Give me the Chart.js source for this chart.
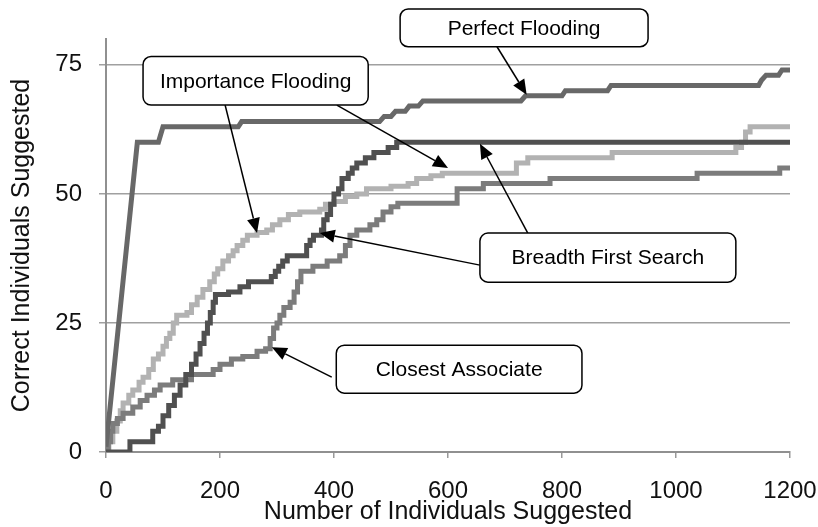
<!DOCTYPE html>
<html>
<head>
<meta charset="utf-8">
<script src="https://cdn.jsdelivr.net/npm/chart.js@4"></script>
<style>
    html, body { margin: 0; padding: 0; background: #fff; }
    #wrap { width: 818px; height: 527px; }
</style>
</head>
<body>
<div id="wrap"><canvas id="chart" width="818" height="527"></canvas></div>
<script>
// Data
const yTicks = [0, 25, 50, 75];
const xTicks = [0, 200, 400, 600, 800, 1000, 1200];

const perfectX = [0, 55, 92, 100, 232, 238, 480, 488, 500, 508, 525, 532, 548, 556, 728, 736, 800, 806, 880, 886, 1145, 1150, 1158, 1180, 1186, 1200];
const perfectY = [1, 60, 60, 63, 63, 64, 64, 65, 65, 66, 66, 67, 67, 68, 68, 69, 69, 70, 70, 71, 71, 72, 73, 73, 74, 74];

const bfsX = [0, 42, 82, 92, 100, 110, 120, 130, 140, 150, 158, 165, 172, 178, 183, 188, 192, 215, 235, 250, 290, 297, 303, 310, 318, 352, 358, 364, 378, 382, 388, 394, 400, 408, 414, 425, 432, 440, 455, 470, 495, 510, 1200];
const bfsY = [0, 2, 4, 5, 7, 9, 11, 13, 15, 17, 19, 21, 23, 25, 27, 29, 30.5, 31, 32, 33, 34, 35, 36, 37, 38, 40, 41, 42, 43, 45, 46, 48, 50, 51, 53, 54, 55, 56, 57, 58, 59, 60, 60];

const importanceX = [0, 5, 12, 19, 25, 30, 40, 47, 58, 65, 75, 83, 92, 100, 106, 112, 118, 124, 142, 150, 160, 170, 182, 190, 196, 205, 215, 223, 230, 240, 248, 265, 282, 292, 305, 320, 340, 375, 385, 400, 420, 440, 457, 500, 530, 545, 570, 590, 720, 740, 888, 1105, 1115, 1122, 1130, 1200];
const importanceY = [0, 2, 4, 6, 8, 9.5, 11, 12, 13.5, 14.5, 16, 18, 19, 20.5, 22, 23, 25, 26.5, 27, 28.5, 30, 31.5, 33, 34.5, 35.5, 37, 38, 39, 40, 41, 42, 42.5, 43, 44, 45, 46, 46.5, 47, 48, 48.5, 49.5, 50, 51, 51.5, 52, 53, 53.5, 54, 56, 57, 58, 59, 60, 62, 63, 63];

const closestX = [0, 4, 8, 12, 20, 30, 47, 60, 72, 85, 95, 117, 150, 188, 200, 220, 240, 265, 280, 288, 294, 300, 305, 312, 323, 330, 336, 342, 363, 388, 410, 420, 428, 440, 463, 475, 486, 500, 512, 616, 662, 779, 1037, 1182, 1200];
const closestY = [0, 2, 4, 5.5, 6.5, 7.5, 8.7, 10, 11, 12, 13, 14, 15, 16, 17, 18, 18.5, 19.5, 20, 22, 24, 25, 26.5, 28, 29, 31, 33, 35, 36, 37, 38, 40, 42, 43, 44, 45, 46.5, 47.5, 48.2, 51, 52, 53, 54, 55, 55];

// Callout boxes (data units) and arrows from box edge to the line
const callouts = [
    { text: 'Perfect Flooding', box: [516, 951, 85.8, 78.5] },
    { text: 'Importance Flooding', box: [65, 460, 76.6, 67.2] },
    { text: 'Breadth First Search', box: [656, 1105, 42.4, 32.9] },
    { text: 'Closest Associate', box: [404, 835, 20.7, 11.4] }
];
const arrows = [
    { from: [686, 78.5], to: [738, 69.2] },
    { from: [209, 67.2], to: [265, 42.4] },
    { from: [405, 67.2], to: [600, 55] },
    { from: [656, 36.2], to: [375, 42.4] },
    { from: [740, 42.4], to: [656, 59.7] },
    { from: [396, 14.5], to: [291, 20.3] }
];

const FONT = "'Liberation Sans', Arial, sans-serif";

function toPoints(xs, ys) {
    return xs.map((x, i) => ({ x: x, y: ys[i] }));
}

// no extra padding for edge labels, keep plot area where the reference has it
function noPad(s) {
    s.paddingLeft = 0;
    s.paddingRight = 0;
    s.paddingTop = 0;
    s.paddingBottom = 0;
}

const calloutPlugin = {
    id: 'callouts',
    afterDraw(chart) {
        const ctx = chart.ctx;
        const sx = chart.scales.x;
        const sy = chart.scales.y;
        ctx.save();

        // arrows first, boxes on top
        arrows.forEach(a => {
            const x1 = sx.getPixelForValue(a.from[0]);
            const y1 = sy.getPixelForValue(a.from[1]);
            const x2 = sx.getPixelForValue(a.to[0]);
            const y2 = sy.getPixelForValue(a.to[1]);
            const ang = Math.atan2(y2 - y1, x2 - x1);
            const len = 15, half = 6.5;
            const bx = x2 - len * Math.cos(ang);
            const by = y2 - len * Math.sin(ang);
            ctx.strokeStyle = '#000';
            ctx.lineWidth = 1.5;
            ctx.beginPath();
            ctx.moveTo(x1, y1);
            ctx.lineTo(bx, by);
            ctx.stroke();
            ctx.fillStyle = '#000';
            ctx.beginPath();
            ctx.moveTo(x2, y2);
            ctx.lineTo(bx + half * Math.sin(ang), by - half * Math.cos(ang));
            ctx.lineTo(bx - half * Math.sin(ang), by + half * Math.cos(ang));
            ctx.closePath();
            ctx.fill();
        });

        callouts.forEach(c => {
            const l = sx.getPixelForValue(c.box[0]);
            const r = sx.getPixelForValue(c.box[1]);
            const t = sy.getPixelForValue(c.box[2]);
            const b = sy.getPixelForValue(c.box[3]);
            ctx.beginPath();
            ctx.roundRect(l, t, r - l, b - t, 8);
            ctx.fillStyle = '#fff';
            ctx.fill();
            ctx.strokeStyle = '#000';
            ctx.lineWidth = 1.5;
            ctx.stroke();
            ctx.fillStyle = '#000';
            ctx.font = '21px ' + FONT;
            ctx.textAlign = 'center';
            ctx.textBaseline = 'middle';
            ctx.fillText(c.text, (l + r) / 2, (t + b) / 2 + 1);
        });
        ctx.restore();
    }
};

const lineStyle = {
    pointRadius: 0,
    borderWidth: 5,
    fill: false,
    tension: 0,
    borderJoinStyle: 'miter'
};

new Chart(document.getElementById('chart'), {
    type: 'line',
    data: {
        datasets: [
            Object.assign({ label: 'Perfect Flooding', data: toPoints(perfectX, perfectY), borderColor: '#686868' }, lineStyle),
            Object.assign({ label: 'Breadth First Search', data: toPoints(bfsX, bfsY), borderColor: '#505050', stepped: true }, lineStyle),
            Object.assign({ label: 'Closest Associate', data: toPoints(closestX, closestY), borderColor: '#7c7c7c', stepped: true }, lineStyle),
            Object.assign({ label: 'Importance Flooding', data: toPoints(importanceX, importanceY), borderColor: '#b2b2b2', stepped: true }, lineStyle)
        ]
    },
    options: {
        responsive: false,
        animation: false,
        layout: { padding: { top: 39, right: 28, left: 0, bottom: 0 } },
        plugins: {
            legend: { display: false },
            tooltip: { enabled: false }
        },
        scales: {
            x: {
                type: 'linear',
                min: 0,
                max: 1200,
                afterFit: s => { s.height = 75; noPad(s); },
                afterBuildTicks: s => { s.ticks = xTicks.map(v => ({ value: v })); },
                grid: { drawOnChartArea: false, drawTicks: true, tickLength: 6, color: '#999', lineWidth: 1.5 },
                border: { color: '#909090', width: 2 },
                ticks: {
                    padding: 19,
                    color: '#111',
                    font: { family: FONT, size: 24 },
                    maxRotation: 0,
                    callback: v => String(v)
                },
                title: {
                    display: true,
                    text: 'Number of Individuals Suggested',
                    color: '#111',
                    font: { family: FONT, size: 25 },
                    padding: { top: 2, bottom: 0 }
                }
            },
            y: {
                min: 0,
                max: 80,
                afterFit: s => { s.width = 106; noPad(s); },
                afterBuildTicks: s => { s.ticks = yTicks.map(v => ({ value: v })); },
                grid: { drawOnChartArea: true, drawTicks: true, tickLength: 7, color: '#a0a0a0', lineWidth: 1.5 },
                border: { color: '#909090', width: 2 },
                ticks: { padding: 17, color: '#111', font: { family: FONT, size: 24 } },
                title: {
                    display: true,
                    text: 'Correct Individuals Suggested',
                    color: '#111',
                    font: { family: FONT, size: 25 },
                    padding: { top: 7, bottom: 0 }
                }
            }
        }
    },
    plugins: [calloutPlugin]
});
</script>
</body>
</html>
